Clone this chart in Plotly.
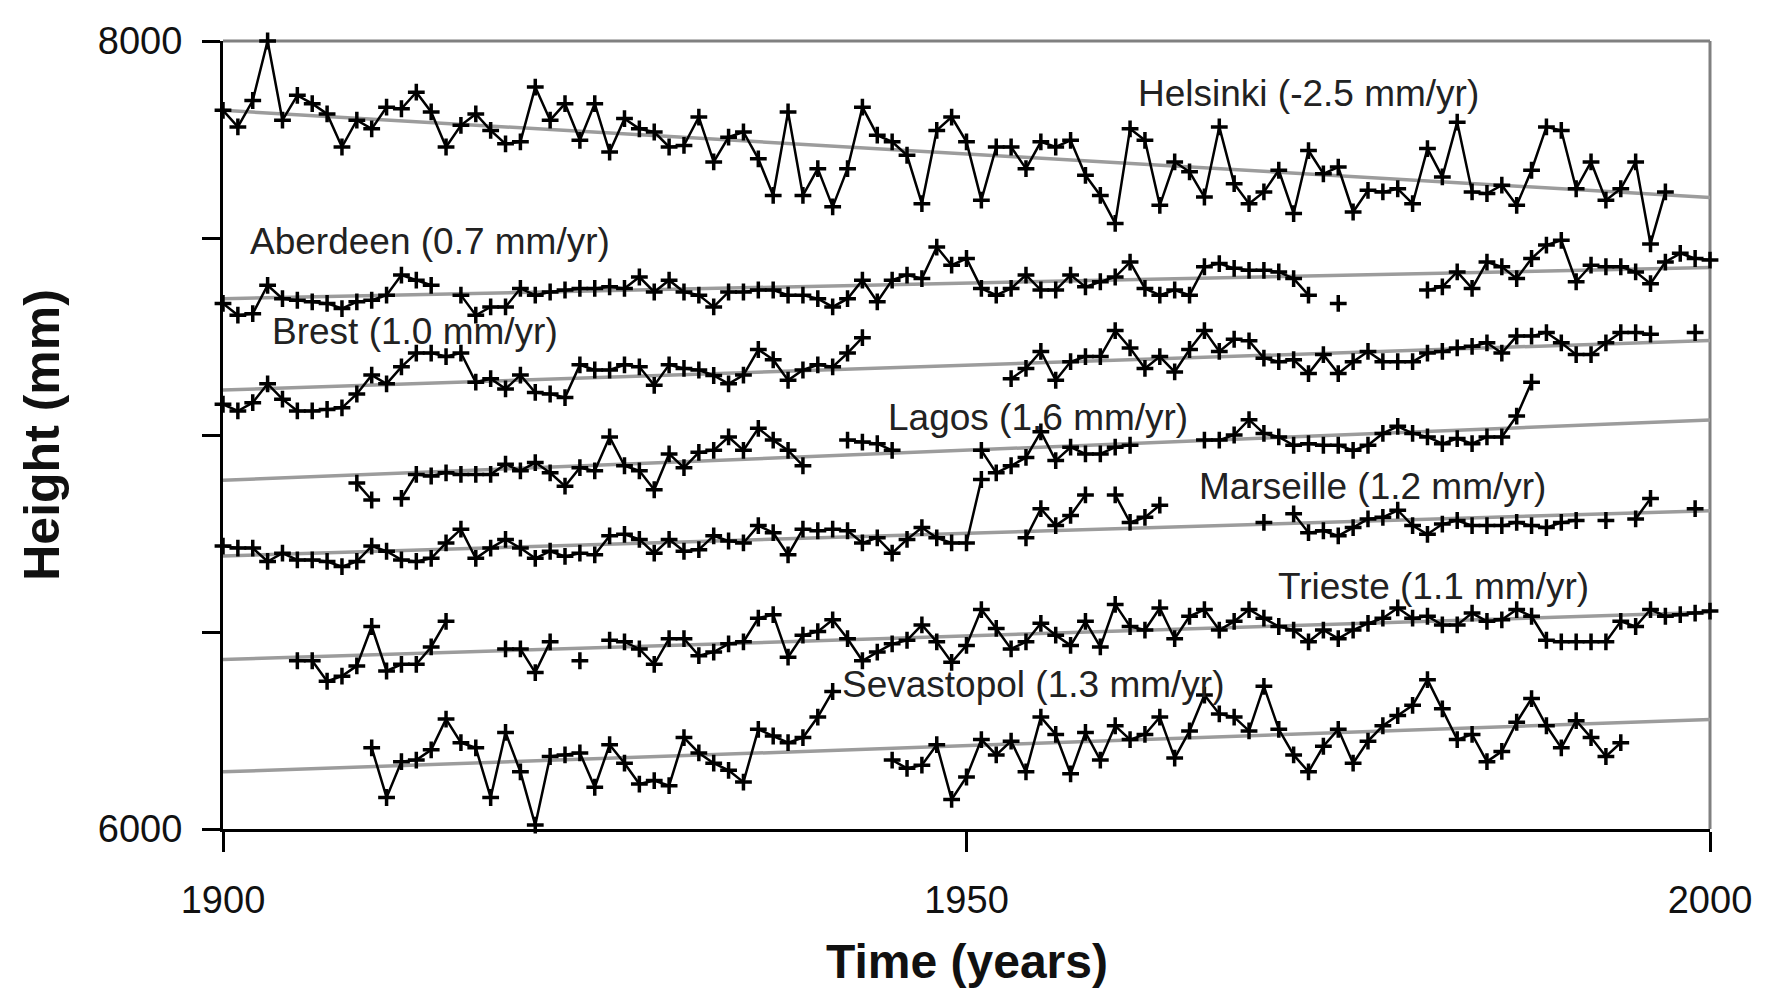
import plotly.graph_objects as go

years = list(range(1900, 2001))
N = None

helsinki = [
    7824, 7782, 7849, 8000, 7799, 7862, 7841, 7815, 7731, 7799,
    7777, 7832, 7828, 7870, 7820, 7731, 7786, 7815, 7773, 7739,
    7744, 7883, 7799, 7841, 7748, 7841, 7718, 7803, 7777, 7769,
    7731, 7735, 7807, 7693, 7756, 7769, 7701, 7608, 7820, 7608,
    7676, 7579, 7676, 7832, 7761, 7744, 7710, 7587, 7773, 7807,
    7744, 7596, 7731, 7731, 7676, 7744, 7731, 7748, 7659, 7608,
    7537, 7777, 7748, 7583, 7693, 7668, 7604, 7782, 7638, 7587,
    7617, 7672, 7562, 7722, 7663, 7680, 7566, 7621, 7617, 7625,
    7587, 7727, 7655, 7794, 7617, 7613, 7634, 7583, 7672, 7782,
    7773, 7625, 7693, 7596, 7625, 7693, 7485, 7617, N, N,
    N,
]
aberdeen = [
    7334, 7304, 7308, 7380, 7346, 7342, 7338, 7334, 7321, 7338,
    7342, 7355, 7406, 7393, 7380, N, 7355, 7304, 7325, 7325,
    7372, 7355, 7363, 7368, 7372, 7372, 7376, 7372, 7401, 7363,
    7393, 7363, 7355, 7325, 7363, 7363, 7368, 7368, 7355, 7355,
    7346, 7325, 7346, 7393, 7338, 7393, 7406, 7397, 7477, 7431,
    7448, 7372, 7355, 7372, 7406, 7368, 7368, 7406, 7376, 7389,
    7401, 7439, 7372, 7355, 7368, 7355, 7427, 7435, 7423, 7418,
    7418, 7414, 7397, 7355, N, 7334, N, N, N, N,
    N, 7368, 7376, 7414, 7372, 7439, 7427, 7397, 7448, 7482,
    7494, 7389, 7431, 7427, 7427, 7414, 7384, 7439, 7461, 7448,
    7444,
]
brest = [
    7078, 7061, 7082, 7130, 7091, 7061, 7061, 7065, 7069, 7104,
    7152, 7130, 7173, 7208, 7208, 7199, 7208, 7134, 7143, 7117,
    7152, 7108, 7104, 7095, 7178, 7165, 7165, 7178, 7173, 7126,
    7178, 7169, 7165, 7151, 7130, 7152, 7217, 7191, 7139, 7165,
    7178, 7173, 7208, 7247, N, N, N, N, N, N,
    N, N, N, 7143, 7169, 7212, 7139, 7186, 7199, 7199,
    7265, 7221, 7169, 7199, 7160, 7217, 7265, 7212, 7243, 7239,
    7195, 7186, 7191, 7156, 7204, 7156, 7186, 7212, 7186, 7186,
    7186, 7208, 7212, 7221, 7225, 7234, 7208, 7251, 7251, 7260,
    7234, 7204, 7204, 7234, 7260, 7260, 7256, N, N, 7260,
    N,
]
lagos = [
    N, N, N, N, N, N, N, N, N, 6878,
    6835, N, 6839, 6900, 6896, 6904, 6900, 6900, 6900, 6926,
    6909, 6930, 6904, 6870, 6917, 6909, 6995, 6922, 6909, 6861,
    6952, 6917, 6956, 6961, 6995, 6961, 7017, 6987, 6961, 6922,
    N, N, 6987, 6982, 6978, 6961, N, N, N, N,
    N, 6961, 6904, 6922, 6943, 7008, 6935, 6969, 6952, 6952,
    6969, 6974, N, N, N, N, 6987, 6987, 7000, 7039,
    7004, 6995, 6974, 6978, 6974, 6974, 6961, 6974, 7004, 7022,
    7004, 6995, 6978, 6991, 6978, 6995, 6995, 7048, 7134, N,
    N, N, N, N, N, N, N, N, N, N,
    N,
]
marseille = [
    6718, 6713, 6713, 6679, 6700, 6683, 6683, 6679, 6666, 6679,
    6718, 6705, 6683, 6679, 6687, 6726, 6761, 6687, 6713, 6735,
    6713, 6687, 6705, 6692, 6700, 6696, 6744, 6748, 6735, 6700,
    6735, 6705, 6709, 6744, 6731, 6726, 6770, 6752, 6696, 6761,
    6757, 6761, 6757, 6726, 6739, 6700, 6735, 6765, 6739, 6726,
    6726, 6887, N, N, 6739, 6813, 6770, 6796, 6848, N,
    6848, 6778, 6791, 6822, N, N, N, N, N, N,
    6778, N, 6800, 6752, 6757, 6744, 6765, 6787, 6791, 6809,
    6770, 6748, 6774, 6783, 6770, 6770, 6770, 6778, 6770, 6765,
    6778, 6783, N, 6783, N, 6787, 6839, N, N, 6813,
    N,
]
trieste = [
    N, N, N, N, N, 6427, 6427, 6375, 6388, 6414,
    6514, 6401, 6418, 6418, 6462, 6527, N, N, N, 6457,
    6457, 6397, 6475, N, 6427, N, 6479, 6475, 6457, 6418,
    6483, 6483, 6440, 6449, 6470, 6475, 6535, 6544, 6436, 6492,
    6501, 6531, 6483, 6427, 6449, 6470, 6479, 6518, 6475, 6423,
    6466, 6557, 6509, 6457, 6475, 6522, 6492, 6466, 6527, 6462,
    6570, 6514, 6505, 6561, 6483, 6540, 6557, 6505, 6527, 6557,
    6535, 6514, 6505, 6475, 6505, 6483, 6505, 6522, 6535, 6561,
    6535, 6540, 6518, 6518, 6548, 6527, 6531, 6557, 6540, 6479,
    6475, 6475, 6475, 6475, 6527, 6514, 6557, 6540, 6544, 6548,
    6553,
]
sevastopol = [
    N, N, N, N, N, N, N, N, N, N,
    6206, 6080, 6171, 6175, 6201, 6279, 6219, 6206, 6080, 6245,
    6145, 6010, 6184, 6188, 6193, 6106, 6214, 6167, 6114, 6123,
    6110, 6232, 6193, 6167, 6149, 6119, 6253, 6236, 6219, 6232,
    6284, 6349, N, N, N, 6175, 6154, 6162, 6214, 6075,
    6132, 6227, 6188, 6223, 6145, 6284, 6240, 6140, 6245, 6175,
    6262, 6227, 6240, 6284, 6180, 6249, 6340, 6292, 6284, 6249,
    6362, 6253, 6188, 6145, 6210, 6253, 6167, 6223, 6262, 6288,
    6314, 6379, 6305, 6227, 6240, 6171, 6197, 6271, 6331, 6262,
    6206, 6275, 6232, 6184, 6219, N, N, N, N, N,
    N,
]

station_names = ["Helsinki", "Aberdeen", "Brest", "Lagos", "Marseille", "Trieste", "Sevastopol"]
station_series = [helsinki, aberdeen, brest, lagos, marseille, trieste, sevastopol]
rates = ["-2.5", "0.7", "1.0", "1.6", "1.2", "1.1", "1.3"]
trend_years = [1900, 2000]
trend_start = [7824, 7346, 7114, 6885, 6693, 6430, 6145]
trend_end = [7603, 7425, 7240, 7038, 6808, 6550, 6278]
label_x = [1973.0, 1913.9, 1912.9, 1954.8, 1977.3, 1981.4, 1954.5]
label_y = [7867, 7491, 7263, 7045, 6870, 6616, 6367]

FONT = "Liberation Sans, Arial, sans-serif"

fig = go.Figure()

for name, s, e in zip(station_names, trend_start, trend_end):
    fig.add_trace(go.Scatter(
        x=trend_years, y=[s, e], mode="lines",
        line=dict(color="#9c9c9c", width=3.5),
        hoverinfo="skip", showlegend=False, name=name + " trend",
    ))

for name, vals in zip(station_names, station_series):
    fig.add_trace(go.Scatter(
        x=years, y=vals, mode="lines+markers", name=name,
        line=dict(color="#000000", width=2.5),
        marker=dict(symbol="cross-thin", size=12, color="#000000",
                    line=dict(color="#000000", width=3.5)),
        connectgaps=False, cliponaxis=False, showlegend=False,
    ))

annotations = []
for name, r, lx, ly in zip(station_names, rates, label_x, label_y):
    annotations.append(dict(
        x=lx, y=ly, xref="x", yref="y", text=f"{name} ({r} mm/yr)",
        xanchor="center", yanchor="middle",
        showarrow=False, font=dict(family=FONT, size=37, color="#222222"),
    ))
annotations.append(dict(
    x=0.5, y=-0.1677, xref="paper", yref="paper", text="<b>Time (years)</b>",
    xanchor="center", yanchor="middle",
    showarrow=False, font=dict(family=FONT, size=48, color="#111111"),
))
annotations.append(dict(
    x=-0.1219, y=0.5, xref="paper", yref="paper", text="<b>Height (mm)</b>",
    xanchor="center", yanchor="middle",
    textangle=-90, showarrow=False, font=dict(family=FONT, size=50, color="#111111"),
))

fig.update_layout(
    width=1756, height=988,
    margin=dict(l=215, r=40, t=16, b=167),
    paper_bgcolor="white", plot_bgcolor="white",
    showlegend=False,
    annotations=annotations,
    shapes=[
        dict(type="line", xref="paper", yref="paper", x0=0, x1=1, y0=1, y1=1,
             line=dict(color="#808080", width=3), layer="below"),
        dict(type="line", xref="paper", yref="paper", x0=1, x1=1, y0=0, y1=1,
             line=dict(color="#808080", width=3), layer="below"),
    ],
)

fig.update_xaxes(
    range=[1900, 2000], tickvals=[1900, 1950, 2000],
    ticks="outside", ticklen=20, tickwidth=3, tickcolor="black",
    showline=True, linecolor="black", linewidth=3,
    showgrid=False, zeroline=False,
    tickfont=dict(family=FONT, size=38, color="#111111"),
    ticklabelstandoff=15, ticklabeloverflow="allow",
)
fig.update_yaxes(
    range=[6000, 8000], tickvals=[6000, 6500, 7000, 7500, 8000],
    ticktext=["6000", "", "", "", "8000"],
    ticks="outside", ticklen=18, tickwidth=3, tickcolor="black",
    showline=True, linecolor="black", linewidth=3,
    showgrid=False, zeroline=False,
    tickfont=dict(family=FONT, size=38, color="#111111"),
    ticklabelstandoff=12, ticklabeloverflow="allow",
)

fig.write_html("out.html")
